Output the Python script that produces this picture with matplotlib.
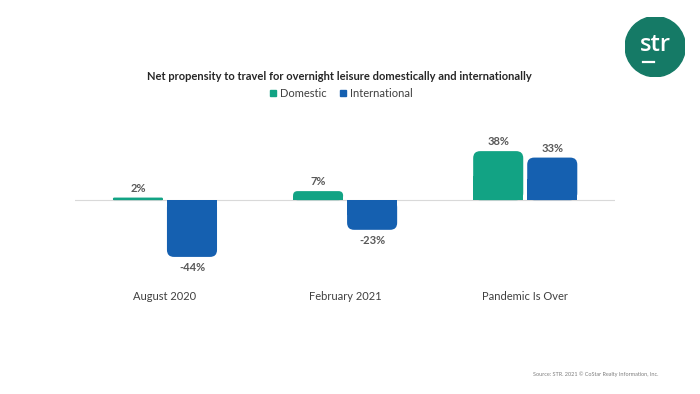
import matplotlib.pyplot as plt
from matplotlib.patches import FancyBboxPatch, Circle
from matplotlib.lines import Line2D
import numpy as np

plt.rcParams['font.family'] = ['Lato', 'DejaVu Sans']

categories = ['August 2020', 'February 2021', 'Pandemic Is Over']
domestic = [2, 7, 38]
international = [-44, -23, 33]

green = '#12a384'
blue = '#1560b0'
label_grey = '#595959'

fig = plt.figure(figsize=(7, 3.94), dpi=100)
ax = fig.add_axes([0.107, 0.289, 0.772, 0.406])
ax.set_xlim(-0.5, 2.5)
ax.set_ylim(-62, 62)
for s in ax.spines.values():
    s.set_visible(False)
ax.set_yticks([])
ax.axhline(0, color='#d9d9d9', lw=0.8, zorder=1)

x = np.arange(len(categories))
w = 0.278
off = 0.15

# px per unit, used to make the corner radius round in pixels
fig.canvas.draw()
px_x = ax.transData.transform((1, 0))[0] - ax.transData.transform((0, 0))[0]
px_y = ax.transData.transform((0, 1))[1] - ax.transData.transform((0, 0))[1]
aspect = px_x / px_y


def rounded_bars(xpos, vals, color):
    bars = ax.bar(xpos, vals, w, color=color, zorder=2)
    for b, v in zip(bars, vals):
        h_px = abs(v) * px_y
        r_px = min(7, h_px / 2)
        patch = FancyBboxPatch((b.get_x(), min(0, v)), w, abs(v),
                               boxstyle='round,pad=0,rounding_size=%f' % (r_px / px_x),
                               mutation_aspect=aspect, fc=color, ec='none', zorder=2)
        ax.add_patch(patch)
        b.set_height(v / 2)
        lab_y = v + (3 if v >= 0 else -4)
        ax.text(b.get_x() + w / 2, lab_y, '%d%%' % v, ha='center',
                va='bottom' if v >= 0 else 'top', fontsize=8, fontweight='bold',
                color=label_grey)


rounded_bars(x - off, domestic, green)
rounded_bars(x + off, international, blue)

ax.set_xticks(x)
ax.set_xticklabels(categories, fontsize=8, color='#404040')
ax.tick_params(axis='x', length=0, pad=8)

fig.text(0.485, 0.805, 'Net propensity to travel for overnight leisure domestically and internationally',
         ha='center', va='center', fontsize=8, fontweight='bold', color='#262626')

handles = [Line2D([], [], marker='s', ls='none', color=green, markersize=5),
           Line2D([], [], marker='s', ls='none', color=blue, markersize=5)]
fig.legend(handles, ['Domestic', 'International'], loc='center', bbox_to_anchor=(0.487, 0.763),
           ncol=2, frameon=False, fontsize=8, handlelength=0.7, handletextpad=0.3,
           columnspacing=1.1, labelcolor='#404040')

# logo
lax = fig.add_axes([0.893, 0.805, 0.086, 0.153])
lax.set_xlim(-1, 1)
lax.set_ylim(-1, 1)
lax.set_aspect('equal')
lax.axis('off')
lax.add_patch(Circle((0, 0), 1, color='#157a66'))
lax.text(0, 0.05, 'str', ha='center', va='center', color='white', fontsize=17,
         fontweight='semibold', fontfamily=['Open Sans', 'DejaVu Sans'])
lax.plot([-0.42, -0.05], [-0.5, -0.5], color='white', lw=1.6)

fig.text(0.94, 0.051, 'Source: STR. 2021 \u00a9 CoStar Realty Information, Inc.', ha='right',
         va='center', fontsize=4, color='#7f7f7f')

fig.savefig('out.png', dpi=100)
